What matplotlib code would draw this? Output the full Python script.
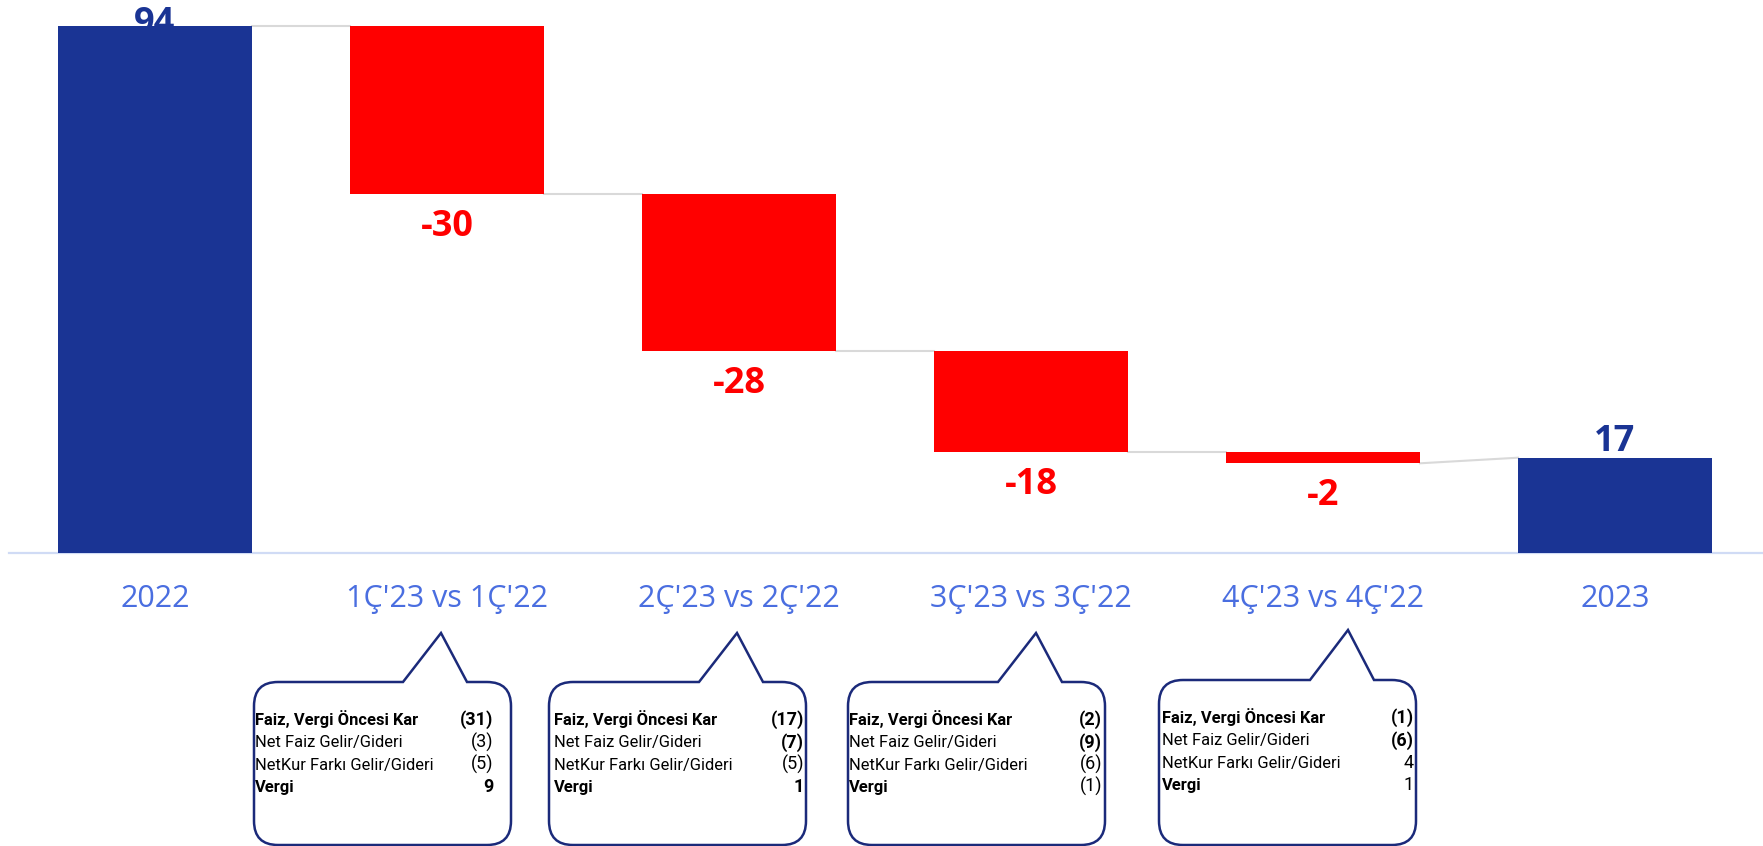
"""Waterfall: 2022 -> 2023 with quarterly deltas and callout boxes."""
import matplotlib
matplotlib.use("Agg")
import matplotlib.pyplot as plt
from matplotlib.patches import PathPatch
from matplotlib.path import Path

# chart data
categories = ["2022", "1Ç'23 vs 1Ç'22", "2Ç'23 vs 2Ç'22",
              "3Ç'23 vs 3Ç'22", "4Ç'23 vs 4Ç'22", "2023"]
values = [94, -30, -28, -18, -2, 17]
is_total = [True, False, False, False, False, True]

# callout tables (one per quarter)
row_labels = ["Faiz, Vergi Öncesi Kar", "Net Faiz Gelir/Gideri",
              "NetKur Farkı Gelir/Gideri", "Vergi"]
q1_values = ["(31)", "(3)", "(5)", "9"]
q2_values = ["(17)", "(7)", "(5)", "1"]
q3_values = ["(2)", "(9)", "(6)", "(1)"]
q4_values = ["(1)", "(6)", "4", "1"]
callout_values = [q1_values, q2_values, q3_values, q4_values]

BLUE = "#1A3494"
RED = "#FF0000"
GRID_GREY = "#d9d9d9"
CAT_COLOR = "#4a6ee0"
NAVY = "#1b2a7a"

W, H = 1763, 846
fig = plt.figure(figsize=(W / 100, H / 100), dpi=100)

# main axes: baseline at pixel row 553, x centers at 155 + 292*i
base_px = 553
ax = fig.add_axes([0, (H - base_px) / H, 1, base_px / H])
ax.set_xlim(-155 / 292, (W - 155) / 292)
ax.set_ylim(0, 98.64)
for s in ["top", "right", "left"]:
    ax.spines[s].set_visible(False)
ax.spines["bottom"].set_color("#d0dbf5")
ax.spines["bottom"].set_linewidth(1.6)
ax.spines["bottom"].set_bounds(-0.5, 6)
ax.set_yticks([])
ax.set_xticks([])

width = 0.664
running = 0
bottoms, heights, starts, ends = [], [], [], []
for v, tot in zip(values, is_total):
    if tot:
        bottoms.append(0)
        heights.append(v)
        starts.append(v)
        ends.append(v)
        running = v
    else:
        new = running + v
        bottoms.append(new)
        heights.append(-v)
        starts.append(running)
        ends.append(new)
        running = new

colors = [BLUE if t else RED for t in is_total]
ax.bar(range(len(values)), heights, bottom=bottoms, width=width,
       color=colors, zorder=3)

# connectors
for i in range(len(values) - 1):
    ax.plot([i + width / 2, i + 1 - width / 2], [ends[i], starts[i + 1]],
            color=GRID_GREY, lw=1.5, zorder=2)

# value labels: baseline offset below the anchor in pixels
# (the 94 label is pushed down by the top edge and sits partly under the bar)
label_offsets = [7, 42, 42, 42, 42, -7]
for i, v in enumerate(values):
    if is_total[i]:
        y = heights[i]
        col = BLUE
    else:
        y = bottoms[i]
        col = RED
    ax.annotate(f"{v}", xy=(i, y), xytext=(0, -label_offsets[i] * 0.72),
                textcoords="offset points", ha="center", va="baseline",
                fontsize=26, fontweight="bold", color=col,
                family=["Open Sans", "DejaVu Sans"], zorder=1,
                annotation_clip=False)

# category labels
for i, c in enumerate(categories):
    ax.annotate(c, xy=(i, 0), xytext=(0, -54 * 0.72),
                textcoords="offset points", ha="center", va="baseline",
                fontsize=22, color=CAT_COLOR,
                family=["Open Sans", "DejaVu Sans"], annotation_clip=False)

# overlay axes in pixel coordinates for the callouts
ov = fig.add_axes([0, 0, 1, 1])
ov.set_xlim(0, W)
ov.set_ylim(H, 0)
ov.axis("off")
ov.patch.set_alpha(0)


def callout_path(left, right, top, bottom, r, tip_x, tip_y):
    """Rounded box with a speech pointer on the top edge."""
    bl, br = tip_x - 38, tip_x + 26
    verts = [(left, top + r), (left, top), (left + r, top),
             (bl, top), (tip_x, tip_y), (br, top),
             (right - r, top), (right, top), (right, top + r),
             (right, bottom - r), (right, bottom), (right - r, bottom),
             (left + r, bottom), (left, bottom), (left, bottom - r),
             (left, top + r)]
    codes = [Path.MOVETO, Path.CURVE3, Path.CURVE3,
             Path.LINETO, Path.LINETO, Path.LINETO,
             Path.LINETO, Path.CURVE3, Path.CURVE3,
             Path.LINETO, Path.CURVE3, Path.CURVE3,
             Path.LINETO, Path.CURVE3, Path.CURVE3,
             Path.CLOSEPOLY]
    return Path(verts, codes)


box_left = [254, 549, 848, 1159]
box_width = 257
box_top = [682, 682, 682, 680]
box_bottom = 845
tip_x = [441, 737, 1036, 1348]
tip_y = [633, 633, 633, 630]
text_pad_left = [1, 5, 1, 3]
val_pad_right = [18, 2, 3, 2]
label_bold = [True, False, False, True]
value_bold = [[True, False, False, True],
              [True, True, False, True],
              [True, True, False, False],
              [True, True, False, False]]

for k in range(4):
    left = box_left[k]
    right = left + box_width
    top = box_top[k]
    path = callout_path(left, right, top, box_bottom, 24, tip_x[k], tip_y[k])
    ov.add_patch(PathPatch(path, facecolor="white", edgecolor=NAVY, lw=1.8))
    for j, lab in enumerate(row_labels):
        yb = top + 43 + 22.4 * j
        ov.text(left + text_pad_left[k], yb, lab, ha="left", va="baseline",
                fontsize=11.9, family=["Roboto", "DejaVu Sans"],
                fontweight="bold" if label_bold[j] else "normal",
                color="black")
        ov.text(right - val_pad_right[k], yb, callout_values[k][j],
                ha="right", va="baseline", fontsize=13,
                family=["Roboto", "DejaVu Sans"],
                fontweight="bold" if value_bold[k][j] else "normal",
                color="black")

fig.savefig("out.png", dpi=100)
plt.close(fig)
